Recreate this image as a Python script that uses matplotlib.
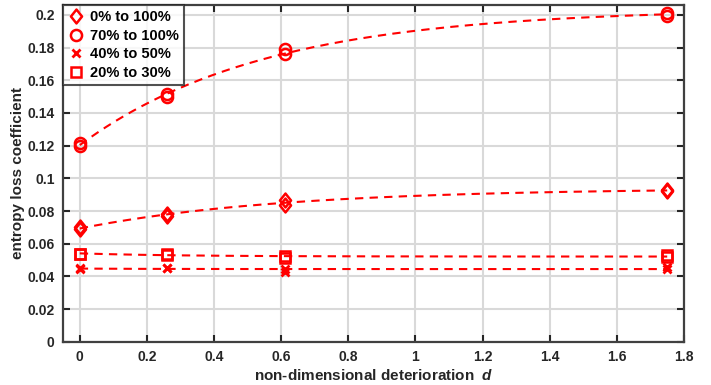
import numpy as np
import matplotlib
matplotlib.use('Agg')
import matplotlib.pyplot as plt
from matplotlib.path import Path

plt.rcParams['font.family'] = ['Liberation Sans', 'DejaVu Sans']
plt.rcParams['font.weight'] = 'bold'
plt.rcParams['mathtext.fontset'] = 'custom'
plt.rcParams['mathtext.it'] = 'Liberation Sans:italic:bold'

# 数据：每个 d 有两次重复的测量
d = [0, 0, 0.26, 0.26, 0.611, 0.611, 1.75, 1.75]
y_0_100 = [0.069, 0.070, 0.077, 0.078, 0.084, 0.087, 0.092, 0.093]
y_70_100 = [0.1200, 0.1215, 0.1495, 0.1515, 0.1760, 0.1790, 0.1990, 0.2010]
y_40_50 = [0.0445, 0.0450, 0.0450, 0.0450, 0.0430, 0.0445, 0.0445, 0.0455]
y_20_30 = [0.0540, 0.0540, 0.0530, 0.0540, 0.0510, 0.0525, 0.0520, 0.0530]

labels = ['0% to 100%', '70% to 100%', '40% to 50%', '20% to 30%']
series = [y_0_100, y_70_100, y_40_50, y_20_30]

# 稍微瘦高一点的菱形，类似 MATLAB 的 diamond
diamond = Path([(0, 1), (0.8, 0), (0, -1), (-0.8, 0), (0, 1)],
               [Path.MOVETO, Path.LINETO, Path.LINETO, Path.LINETO, Path.CLOSEPOLY])
markers = [diamond, 'o', 'x', 's']


def fit_exp(x, y):
    # y = a - b*exp(-c*x)，对 c 做网格搜索，a、b 用最小二乘
    x = np.asarray(x, float)
    y = np.asarray(y, float)
    best = None
    for c in np.linspace(0.2, 5, 200):
        A = np.column_stack([np.ones_like(x), -np.exp(-c * x)])
        coef, res, *_ = np.linalg.lstsq(A, y, rcond=None)
        err = np.sum((A @ coef - y) ** 2)
        if best is None or err < best[0]:
            best = (err, coef[0], coef[1], c)
    return best[1:]


fig = plt.figure(figsize=(7.11, 3.85), dpi=100)
ax = fig.add_axes([0.0886, 0.112, 0.8734, 0.875])

xx = np.linspace(0, 1.75, 200)
for y, m, lab in zip(series, markers, labels):
    a, b, c = fit_exp(d, y)
    ax.plot(xx, a - b * np.exp(-c * xx), color='red', ls=(0, (4, 3)), lw=1.5)
    if m == 'x':
        ax.plot(d, y, ls='none', marker=m, color='red', ms=6, mew=2, label=lab)
    elif m is diamond:
        ax.plot(d, y, ls='none', marker=m, mfc='none', mec='red', ms=10, mew=1.8, label=lab)
    else:
        ax.plot(d, y, ls='none', marker=m, mfc='none', mec='red', ms=8 if m == 'o' else 6.5,
                mew=1.8, label=lab)

ax.set_xlim(-0.05, 1.8)
ax.set_ylim(0, 0.206)
ax.set_xticks(np.arange(0, 1.81, 0.2))
ax.set_xticklabels(['0', '0.2', '0.4', '0.6', '0.8', '1', '1.2', '1.4', '1.6', '1.8'])
ax.set_yticks(np.arange(0, 0.201, 0.02))
ax.set_yticklabels(['0', '0.02', '0.04', '0.06', '0.08', '0.1', '0.12', '0.14', '0.16', '0.18', '0.2'])
ax.grid(True, color='#d9d9d9', lw=1.5)
ax.set_axisbelow(True)
ax.tick_params(direction='in', top=True, right=True, length=5, width=1.5,
               labelsize=10, colors='#262626', pad=6)
for s in ax.spines.values():
    s.set_color('#404040')
    s.set_linewidth(1.6)

ax.set_xlabel(r'non-dimensional deterioration  $\mathit{d}$', fontsize=11,
              fontweight='bold', color='#262626', labelpad=3)
ax.set_ylabel('entropy loss coefficient', fontsize=11, fontweight='bold', color='#262626', labelpad=2)

leg = ax.legend(loc='upper left', frameon=True, fancybox=False,
                borderaxespad=0, handletextpad=0.4, handlelength=1.1, borderpad=0.35,
                labelspacing=0.32, prop={'weight': 'bold', 'size': 10.5})
leg.get_frame().set_edgecolor('#262626')
leg.get_frame().set_linewidth(1.5)

fig.savefig('out.png', dpi=100)
